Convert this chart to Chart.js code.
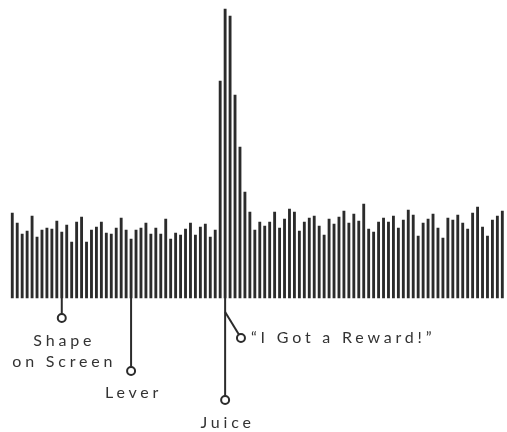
<!DOCTYPE html>
<html lang="en">
<head>
    <meta charset="UTF-8">
    <title>Reward response</title>
    <script src="https://cdn.jsdelivr.net/npm/chart.js"></script>
    <style>
        html, body {
            margin: 0;
            padding: 0;
            background: #fff;
        }
        #wrap {
            width: 507px;
            height: 432px;
        }
    </style>
</head>
<body>
    <div id="wrap"><canvas id="spikeChart"></canvas></div>

    <script>
        // one bar per time bin, height in arbitrary activity units
        const bins = Array.from({ length: 100 }, (_, i) => String(i + 1));
        const activity = [
            85, 75, 64, 67, 82, 61, 68, 70, 69, 77,
            66, 73, 56, 76, 81, 56, 68, 71, 76, 65,
            64, 70, 80, 68, 59, 68, 70, 75, 64, 70,
            64, 79, 59, 65, 63, 69, 75, 63, 71, 74,
            61, 68, 217, 289, 282, 203, 151, 106, 86, 68,
            76, 72, 76, 86, 70, 79, 89, 86, 67, 76,
            80, 82, 72, 63, 79, 74, 81, 87, 75, 84,
            77, 94, 69, 66, 76, 80, 76, 82, 70, 78,
            88, 83, 62, 75, 79, 84, 70, 60, 80, 78,
            83, 75, 69, 85, 91, 71, 62, 78, 82, 87
        ];
        // event markers: bin index where each event happened
        const eventLabels = [['Shape', 'on Screen'], ['Lever'], ['Juice'], ['\u201cI Got a Reward!\u201d']];
        const eventBins = [10, 24, 43, 43];

        const ink = '#2b2b2b';

        // callout layout below the baseline (y in chart units, baseline = 0)
        const calloutLayout = [
            { dot: -20, text: [-43, -64], align: 'center' },
            { dot: -73, text: [-95], align: 'center' },
            { dot: -102, text: [-125], align: 'center' },
            { branchFrom: -14, dotBin: 46.2, dot: -40, text: [-40], align: 'left' }
        ];

        const calloutPlugin = {
            id: 'callouts',
            afterDatasetsDraw(chart) {
                const ctx = chart.ctx;
                const x = chart.scales.x;
                const y = chart.scales.y;
                const r = 4;
                ctx.save();
                ctx.strokeStyle = ink;
                ctx.fillStyle = '#333';
                ctx.lineWidth = 2;
                ctx.font = '16px Lato';
                ctx.letterSpacing = '3.8px';
                ctx.textBaseline = 'middle';
                eventBins.forEach((bin, i) => {
                    const c = calloutLayout[i];
                    const px = x.getPixelForValue(bin);
                    let dx = px;
                    ctx.beginPath();
                    if (c.branchFrom !== undefined) {
                        dx = x.getPixelForValue(c.dotBin);
                        const sy = y.getPixelForValue(c.branchFrom);
                        const dy = y.getPixelForValue(c.dot);
                        const ang = Math.atan2(dy - sy, dx - px);
                        ctx.moveTo(px, sy);
                        ctx.lineTo(dx - r * Math.cos(ang), dy - r * Math.sin(ang));
                    } else {
                        ctx.moveTo(px, y.getPixelForValue(0));
                        ctx.lineTo(px, y.getPixelForValue(c.dot) - r);
                    }
                    ctx.stroke();
                    ctx.beginPath();
                    ctx.arc(dx, y.getPixelForValue(c.dot), r, 0, Math.PI * 2);
                    ctx.stroke();
                    eventLabels[i].forEach((line, j) => {
                        const ty = y.getPixelForValue(c.text[j]);
                        if (c.align === 'left') {
                            ctx.textAlign = 'left';
                            ctx.fillText(line, dx + 10, ty);
                        } else {
                            ctx.textAlign = 'center';
                            ctx.fillText(line, px + 2.5, ty);
                        }
                    });
                });
                ctx.restore();
            }
        };

        new Chart(document.getElementById('spikeChart'), {
            type: 'bar',
            data: {
                labels: bins,
                datasets: [{
                    data: activity,
                    backgroundColor: ink,
                    barThickness: 2.2,
                    borderWidth: 0
                }]
            },
            options: {
                responsive: true,
                maintainAspectRatio: false,
                animation: false,
                events: [],
                layout: { padding: { left: 9.8, right: 2.2, top: 0, bottom: 0 } },
                plugins: {
                    legend: { display: false },
                    tooltip: { enabled: false }
                },
                scales: {
                    x: { display: false, offset: true },
                    y: { display: false, min: -134, max: 298 }
                }
            },
            plugins: [calloutPlugin]
        });
    </script>
</body>
</html>
